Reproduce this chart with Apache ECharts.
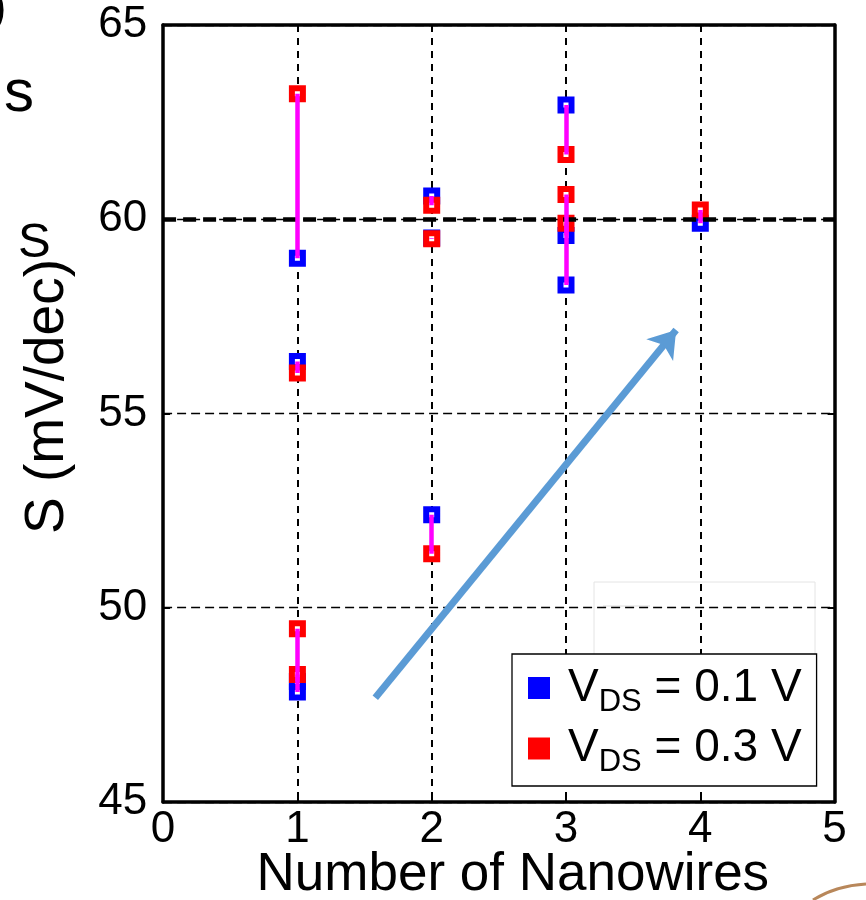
<!DOCTYPE html>
<html>
<head>
<meta charset="utf-8">
<script src="https://cdn.jsdelivr.net/npm/echarts@6/dist/echarts.min.js"></script>
<style>
  html, body { margin: 0; padding: 0; background: #fff; }
  #chart { width: 866px; height: 900px; }
</style>
</head>
<body>
<div id="chart"></div>
<script>
// Subthreshold swing of each device, paired by drain bias, grouped by nanowire count.
const nanowireCount = [1, 1, 1, 1, 2, 2, 2, 3, 3, 3, 4];
const swingVds01 = [59.0, 56.34, 47.83, 48.1, 60.6, 52.39, 59.52, 62.94, 58.31, 59.58, 59.9];
const swingVds03 = [63.23, 56.04, 49.46, 48.28, 60.36, 51.39, 59.5, 61.67, 60.64, 59.9, 60.24];
const seriesNames = ['V_DS = 0.1 V', 'V_DS = 0.3 V'];
const xTicks = [0, 1, 2, 3, 4, 5];
const yTicks = [45, 50, 55, 60, 65];
const idealSwing = 60;                       // thermionic limit at room temperature
const trendArrow = [[1.58, 47.68], [3.82, 57.15]];

const FONT = '"Liberation Sans", Arial, Helvetica, sans-serif';
const BLUE = '#0000ff', RED = '#ff0000', MAGENTA = '#ff00ff';

const chart = echarts.init(document.getElementById('chart'), null, { renderer: 'canvas' });

const boxLine = { show: true, onZero: false, lineStyle: { color: '#000', width: 3.5 } };
const innerTick = { show: true, inside: true, length: 7, lineStyle: { color: '#000', width: 2 } };

function legendText(name) {
  // "V_DS = 0.1 V" -> V with subscript DS
  const m = name.match(/^V_DS(.*)$/);
  return m ? '{v|V}{s|DS}{v|' + m[1] + '}' : name;
}

function hollowSquare(color) {
  return {
    symbol: 'rect',
    symbolSize: 11,
    itemStyle: { color: '#fff', borderColor: color, borderWidth: 6, opacity: 1 }
  };
}

const option = {
  backgroundColor: '#fff',
  animation: false,
  grid: {
    left: 163.1, right: 31.4, top: 25.1, bottom: 98.1,
    containLabel: false, outerBoundsMode: 'none'
  },
  xAxis: [
    {
      type: 'value', position: 'bottom',
      min: xTicks[0], max: xTicks[xTicks.length - 1], interval: xTicks[1] - xTicks[0],
      axisLine: boxLine, axisTick: innerTick,
      axisLabel: { fontSize: 44, color: '#000', fontFamily: FONT, margin: 6 },
      splitLine: { show: true, lineStyle: { color: '#000', width: 2, type: [7, 6] } },
      name: 'Number of Nanowires', nameLocation: 'middle', nameGap: 47, nameMoveOverlap: false,
      nameTextStyle: { fontSize: 53, color: '#000', fontFamily: FONT, padding: [0, 0, 0, 28] }
    },
    {
      type: 'value', position: 'top',
      min: xTicks[0], max: xTicks[xTicks.length - 1], interval: xTicks[1] - xTicks[0],
      axisLine: boxLine, axisTick: innerTick,
      axisLabel: { show: false }, splitLine: { show: false }
    }
  ],
  yAxis: [
    {
      type: 'value', position: 'left',
      min: yTicks[0], max: yTicks[yTicks.length - 1], interval: yTicks[1] - yTicks[0],
      axisLine: boxLine, axisTick: innerTick,
      axisLabel: { fontSize: 44, color: '#000', fontFamily: FONT, margin: 16 },
      splitLine: { show: true, lineStyle: { color: '#000', width: 1.3, type: [9, 5] } },
      name: 'S (mV/dec)', nameLocation: 'middle', nameGap: 88,
      nameTextStyle: { fontSize: 55, color: '#000', fontFamily: FONT, padding: [0, 0, 0, 34] }
    },
    {
      type: 'value', position: 'right',
      min: yTicks[0], max: yTicks[yTicks.length - 1], interval: yTicks[1] - yTicks[0],
      axisLine: boxLine, axisTick: innerTick,
      axisLabel: { show: false }, splitLine: { show: false }
    }
  ],
  legend: {
    orient: 'vertical',
    left: 512, top: 654,
    padding: [11, 15, 8, 16],
    itemGap: 8,
    itemWidth: 22, itemHeight: 22,
    icon: 'rect',
    backgroundColor: '#fff',
    borderColor: '#000', borderWidth: 1.3, borderRadius: 0,
    data: [
      { name: seriesNames[0], itemStyle: { color: BLUE, borderWidth: 0 } },
      { name: seriesNames[1], itemStyle: { color: RED, borderWidth: 0 } }
    ],
    formatter: legendText,
    textStyle: {
      color: '#000', fontFamily: FONT, padding: [0, 0, 0, 13],
      rich: {
        v: { fontSize: 46, lineHeight: 46, color: '#000', fontFamily: FONT },
        s: { fontSize: 31, height: 18, verticalAlign: 'bottom', color: '#000', fontFamily: FONT }
      }
    }
  },
  series: [
    {
      // dashed reference line at the ideal swing
      type: 'scatter', data: [], z: 1, silent: true,
      markLine: {
        silent: true, symbol: ['none', 'none'], label: { show: false },
        lineStyle: { color: '#000', width: 4.5, type: [13, 7] },
        data: [{ yAxis: idealSwing }]
      }
    },
    Object.assign({
      name: seriesNames[0], type: 'scatter', z: 3,
      data: nanowireCount.map((n, i) => [n, swingVds01[i]])
    }, hollowSquare(BLUE)),
    Object.assign({
      name: seriesNames[1], type: 'scatter', z: 4,
      data: nanowireCount.map((n, i) => [n, swingVds03[i]])
    }, hollowSquare(RED)),
    {
      // each device's two bias points joined
      type: 'lines', coordinateSystem: 'cartesian2d', z: 5, silent: true,
      lineStyle: { color: MAGENTA, width: 4.5, opacity: 1 },
      data: nanowireCount.map((n, i) => ({ coords: [[n, swingVds01[i]], [n, swingVds03[i]]] }))
    },
    {
      // trend arrow
      type: 'lines', coordinateSystem: 'cartesian2d', z: 6, silent: true,
      symbol: ['none', 'arrow'], symbolSize: 26,
      lineStyle: { color: '#5b9bd5', width: 7, opacity: 1 },
      data: [{ coords: trendArrow }]
    }
  ],
  graphic: [
    { type: 'text', left: -10, top: -16, z: 0, style: { text: ')', fontSize: 50, fontFamily: FONT, fill: '#000' } },
    { type: 'text', left: 4, top: 64, z: 0, style: { text: 's', fontSize: 60, fontFamily: FONT, fill: '#000' } },
    { type: 'text', left: 18, top: 219, z: 0, style: { text: 'S', fontSize: 49, fontFamily: FONT, fill: '#000' } },
    { type: 'polyline', z: 0, shape: { points: [[594, 654], [594, 582], [815, 582], [815, 654]] },
      style: { stroke: '#e4e4e4', lineWidth: 1, fill: null } },
    { type: 'line', z: 0, shape: { x1: 603, y1: 606, x2: 650, y2: 606 },
      style: { stroke: '#dcdcdc', lineWidth: 1 } },
    { type: 'bezierCurve', z: 0, shape: { x1: 813, y1: 900, cpx1: 835, cpy1: 886, x2: 866, y2: 884 },
      style: { stroke: '#b8875a', lineWidth: 3, fill: null } }
  ]
};

chart.setOption(option);
</script>
</body>
</html>
